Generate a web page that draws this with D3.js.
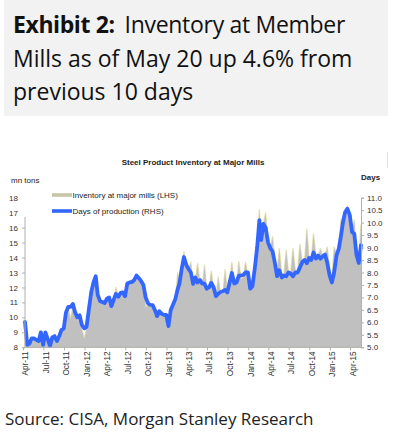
<!DOCTYPE html>
<html>
<head>
<meta charset="utf-8">
<script src="https://cdn.jsdelivr.net/npm/d3@7"></script>
<style>
  body { margin: 0; background: #fff; }
  svg { display: block; }
</style>
</head>
<body>
<svg id="chart" width="394" height="435"></svg>
<script>
// 10-day readings from Apr 10 2011 to May 20 2015 (10th, 20th, month end)
const inventory = [
  9.6, 8.2, 8.3, 8.5, 8.6, 8.5, 8.4, 9.0, 8.2, 8.9,
  8.6, 8.1, 8.6, 8.8, 8.4, 8.7, 9.1, 9.2, 10.2, 10.6,
  9.9, 10.8, 10.2, 9.8, 10.1, 9.2, 8.6, 9.3, 10.4, 11.7,
  12.3, 12.6, 11.4, 11.0, 11.0, 10.9, 11.2, 11.3, 10.7, 11.1,
  12.0, 11.4, 11.6, 11.8, 11.4, 12.2, 12.4, 12.3, 12.5, 12.8,
  12.5, 12.4, 12.0, 10.7, 10.8, 10.7, 10.8, 10.4, 10.0, 10.4,
  10.2, 10.1, 10.1, 9.3, 10.4, 10.8, 11.2, 13.0, 12.2, 13.2,
  14.4, 13.5, 13.2, 13.7, 12.1, 12.5, 13.6, 12.3, 12.1, 13.5,
  11.8, 11.9, 13.1, 11.9, 11.3, 12.7, 11.6, 11.6, 13.2, 11.6,
  12.2, 13.7, 12.2, 12.2, 13.75, 12.6, 12.7, 13.7, 12.8, 11.8,
  12.6, 13.3, 14.8, 17.2, 15.2, 16.3, 17.0, 15.0, 14.6, 15.4,
  13.6, 12.9, 14.6, 12.9, 12.9, 14.5, 13.0, 13.0, 14.6, 13.1,
  13.1, 14.9, 13.7, 13.8, 15.9, 14.0, 13.9, 15.6, 14.0, 14.1,
  14.6, 14.0, 14.1, 14.7, 13.3, 12.6, 14.7, 14.2, 14.7, 16.6,
  16.2, 16.9, 17.4, 16.8, 15.8, 16.5, 14.3, 13.8, 16.2
];
const daysOfProd = [
  6.02, 5.1, 5.15, 5.36, 5.36, 5.3, 5.25, 5.6, 5.1, 5.6,
  5.35, 5.05, 5.4, 5.45, 5.25, 5.45, 5.7, 5.75, 6.4, 6.62,
  6.62, 6.74, 6.4, 6.2, 6.28, 5.9, 5.76, 5.82, 6.5, 7.22,
  7.6, 7.85, 7.1, 6.86, 6.82, 6.77, 6.95, 7.0, 6.65, 6.9,
  7.14, 7.03, 7.18, 7.2, 7.05, 7.56, 7.6, 7.62, 7.7, 7.88,
  7.77, 7.65, 7.5, 7.0, 6.77, 6.7, 6.69, 6.5, 6.25, 6.45,
  6.35, 6.3, 6.3, 5.85, 6.5, 6.73, 6.95, 7.33, 7.55, 8.15,
  8.62, 8.3, 8.13, 8.0, 7.54, 7.8, 7.6, 7.7, 7.55, 7.55,
  7.35, 7.4, 7.58, 7.4, 7.05, 7.15, 7.22, 7.25, 7.3, 7.2,
  7.6, 7.98, 7.56, 7.6, 7.87, 7.88, 7.9, 8.0, 8.0, 7.35,
  7.45, 8.2, 9.0, 10.1, 9.3, 9.95, 9.8, 9.2, 8.97, 8.85,
  8.4, 7.85, 8.09, 7.8, 7.88, 7.85, 8.0, 7.96, 7.85, 8.0,
  8.0, 8.2, 8.42, 8.5, 8.37, 8.58, 8.5, 8.8, 8.56, 8.68,
  8.55, 8.65, 8.72, 8.4, 7.87, 7.6, 8.0, 8.7, 8.96, 9.5,
  9.98, 10.42, 10.56, 10.3, 9.62, 9.55, 8.7, 8.38, 9.1
];
const leftTicks = [8, 9, 10, 11, 12, 13, 14, 15, 16, 17, 18];
const rightTicks = [5.0, 5.5, 6.0, 6.5, 7.0, 7.5, 8.0, 8.5, 9.0, 9.5, 10.0, 10.5, 11.0];
const quarterLabels = ["Apr-11", "Jul-11", "Oct-11", "Jan-12", "Apr-12", "Jul-12", "Oct-12",
  "Jan-13", "Apr-13", "Jul-13", "Oct-13", "Jan-14", "Apr-14", "Jul-14", "Oct-14", "Jan-15", "Apr-15"];
const legendNames = ["Inventory at major mills (LHS)", "Days of production (RHS)"];

// dates of the readings
const dates = [];
d3.timeMonth.range(new Date(2011, 3, 1), new Date(2015, 5, 1)).forEach(m => {
  dates.push(new Date(m.getFullYear(), m.getMonth(), 10));
  dates.push(new Date(m.getFullYear(), m.getMonth(), 20));
  dates.push(d3.timeDay.offset(d3.timeMonth.offset(m, 1), -1));
});
dates.length = inventory.length;

const svg = d3.select("#chart");
const chartFont = "'Liberation Sans', Arial, sans-serif";

// header box
svg.append("rect").attr("x", 4).attr("y", 0).attr("width", 384).attr("height", 116).attr("fill", "#f2f2f2");
const head = svg.append("g").attr("font-family", "'Open Sans', sans-serif").attr("font-size", 23).attr("fill", "#111");
const l1 = head.append("text").attr("x", 13).attr("y", 33);
l1.append("tspan").attr("font-weight", "bold").attr("letter-spacing", -0.4).text("Exhibit 2:");
l1.append("tspan").attr("dx", 10).attr("letter-spacing", -0.3).text("Inventory at Member");
head.append("text").attr("x", 13).attr("y", 67).text("Mills as of May 20 up 4.6% from");
head.append("text").attr("x", 13).attr("y", 100).text("previous 10 days");

// source
svg.append("text").attr("x", 5).attr("y", 425)
  .attr("font-family", "'Open Sans', sans-serif").attr("font-size", 17).attr("fill", "#222")
  .text("Source: CISA, Morgan Stanley Research");

// faint frame edge at right of chart image
svg.append("line").attr("x1", 387.5).attr("x2", 387.5).attr("y1", 152).attr("y2", 168).attr("stroke", "#ddd");

// scales
const x = d3.scaleTime().domain([dates[0], dates[dates.length - 1]]).range([25, 361]);
const yL = d3.scaleLinear().domain([8, 18]).range([347.3, 197.7]);
const yR = d3.scaleLinear().domain([5, 11]).range([347.3, 197.7]);

const g = svg.append("g").attr("font-family", chartFont);

// area (inventory)
const area = d3.area()
  .x((d, i) => x(dates[i]))
  .y0(yL(8))
  .y1(d => yL(d));
g.append("path").datum(inventory)
  .attr("d", area)
  .attr("fill", "#c0c0c0")
  .attr("stroke", "#e6e2b0")
  .attr("stroke-width", 1.3)
  .attr("stroke-linejoin", "round");
// repaint fill over the stroke at bottom/sides
g.append("path").datum(inventory)
  .attr("d", d3.area().x((d, i) => x(dates[i])).y0(yL(8)).y1(d => yL(d) + 0.8))
  .attr("fill", "#c0c0c0");

// line (days)
const line = d3.line()
  .x((d, i) => x(dates[i]))
  .y(d => yR(d));
g.append("path").datum(daysOfProd)
  .attr("d", line)
  .attr("fill", "none")
  .attr("stroke", "#3366ff")
  .attr("stroke-width", 3.8)
  .attr("stroke-linejoin", "round")
  .attr("stroke-linecap", "round");

// axes
const tickDates = quarterLabels.map(d3.timeParse("%b-%y"));
const xAxis = d3.axisBottom(x).tickValues(tickDates).tickSize(3).tickFormat((d, i) => quarterLabels[i]);
const gx = g.append("g").attr("transform", "translate(0,347.3)").call(xAxis);
gx.select(".domain").remove();
gx.append("line").attr("x1", 25).attr("x2", 361).attr("stroke", "#b0b0b0");
gx.selectAll(".tick line").attr("stroke", "#b0b0b0");
gx.selectAll(".tick text")
  .attr("font-size", 8.3).attr("fill", "#333")
  .attr("text-anchor", "end")
  .attr("transform", "rotate(-90)")
  .attr("x", -4).attr("y", 0).attr("dy", "0.6em");

const gl = g.append("g").attr("transform", "translate(25,0)")
  .call(d3.axisLeft(yL).tickValues(leftTicks).tickSize(3).tickPadding(4).tickFormat(d3.format("d")));
gl.select(".domain").remove();
gl.append("line").attr("y1", 217).attr("y2", 347.3).attr("stroke", "#b0b0b0");
gl.selectAll(".tick line").attr("stroke", "#b0b0b0");
gl.selectAll(".tick text").attr("font-size", 8).attr("fill", "#333");

const gr = g.append("g").attr("transform", "translate(361,0)")
  .call(d3.axisRight(yR).tickValues(rightTicks).tickSize(3).tickPadding(3).tickFormat(d3.format(".1f")));
gr.select(".domain").attr("stroke", "#b0b0b0");
gr.selectAll(".tick line").attr("stroke", "#b0b0b0");
gr.selectAll(".tick text").attr("font-size", 8).attr("fill", "#333");

// legend (covers top of left axis)
g.append("rect").attr("x", 20).attr("y", 188).attr("width", 170).attr("height", 28).attr("fill", "#fff");
const legColors = ["#c9c5a8", "#3366ff"];
legendNames.forEach((name, i) => {
  const ly = 195 + i * 16;
  g.append("line").attr("x1", 52).attr("x2", 72).attr("y1", ly).attr("y2", ly)
    .attr("stroke", legColors[i]).attr("stroke-width", 3.6);
  g.append("text").attr("x", 72.5).attr("y", ly).attr("dy", "0.35em")
    .attr("font-size", 8).attr("fill", "#222").text(name);
});

// titles
g.append("text").attr("x", 193).attr("y", 164.5).attr("text-anchor", "middle")
  .attr("font-size", 8).attr("font-weight", "bold").attr("fill", "#222")
  .text("Steel Product Inventory at Major Mills");
g.append("text").attr("x", 11).attr("y", 183).attr("font-size", 8).attr("fill", "#222").text("mn tons");
g.append("text").attr("x", 361).attr("y", 180).attr("font-size", 8).attr("font-weight", "bold").attr("fill", "#222").text("Days");
</script>
</body>
</html>
